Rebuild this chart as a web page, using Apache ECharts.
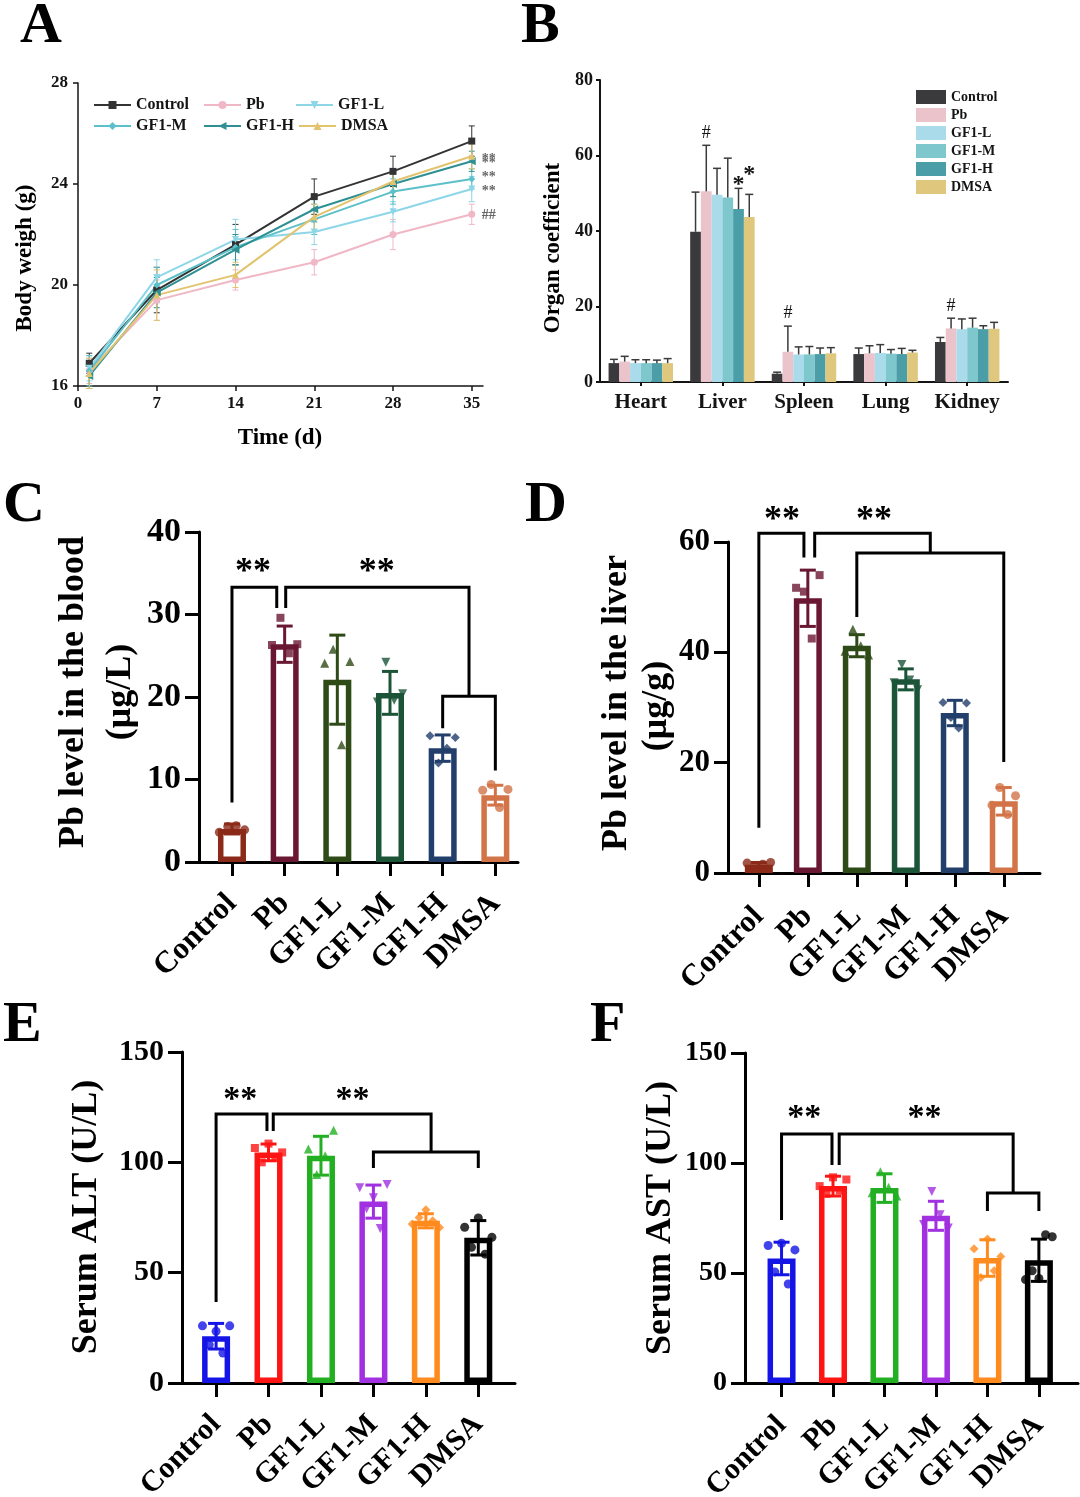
<!DOCTYPE html>
<html><head><meta charset="utf-8">
<script src="https://cdn.jsdelivr.net/npm/echarts@6/dist/echarts.min.js"></script>
<style>html,body{margin:0;padding:0;background:#fff}#c{width:1080px;height:1497px}</style>
</head><body><div id="c"></div>
<script>
// ================= DATA =================
const groups = ['Control', 'Pb', 'GF1-L', 'GF1-M', 'GF1-H', 'DMSA'];

// ---- A: body weight (g) ----
const daysA = [1, 7, 14, 21, 28, 35];
const wControl = [16.9, 19.8, 21.6, 23.5, 24.5, 25.7];
const wPb      = [16.6, 19.4, 20.2, 20.9, 22.0, 22.8];
const wGF1L    = [16.7, 20.3, 21.8, 22.1, 22.9, 23.8];
const wGF1M    = [16.6, 20.0, 21.5, 22.6, 23.7, 24.2];
const wGF1H    = [16.4, 19.7, 21.4, 23.0, 24.0, 24.9];
const wDMSA    = [16.5, 19.6, 20.4, 22.7, 24.1, 25.1];
const wErrControl = [0.4, 0.9, 0.8, 0.7, 0.6, 0.6];
const wErrPb      = [0.5, 0.8, 0.4, 0.5, 0.6, 0.4];
const wErrGF1L    = [0.5, 0.7, 0.8, 0.5, 0.4, 0.5];
const wErrGF1M    = [0.6, 0.7, 0.7, 0.6, 0.5, 0.4];
const wErrGF1H    = [0.5, 0.6, 0.6, 0.5, 0.5, 0.4];
const wErrDMSA    = [0.6, 1.0, 0.5, 0.5, 0.4, 0.5];
const ticksA = [0, 7, 14, 21, 28, 35];
const sigA = [[35, 24.98, '**'], [35, 24.8, '**'], [35, 24.25, '**'], [35, 23.7, '**'], [35, 22.75, '##']];

// ---- B: organ coefficient ----
const organs = ['Heart', 'Liver', 'Spleen', 'Lung', 'Kidney'];
const orgControl = [5.0, 39.8, 2.2, 7.4, 10.6];
const orgPb      = [5.4, 50.5, 8.0, 7.6, 14.2];
const orgGF1L    = [5.0, 49.6, 7.3, 7.7, 14.0];
const orgGF1M    = [5.0, 48.9, 7.3, 7.5, 14.4];
const orgGF1H    = [5.0, 45.8, 7.4, 7.4, 14.0];
const orgDMSA    = [5.0, 43.7, 7.6, 7.8, 14.1];
const orgErrControl = [1.0, 10.5, 0.4, 1.6, 1.2];
const orgErrPb      = [1.4, 12.2, 6.8, 2.0, 2.7];
const orgErrGF1L    = [0.9, 7.0, 2.0, 2.2, 2.7];
const orgErrGF1M    = [0.9, 10.4, 2.1, 1.1, 2.5];
const orgErrGF1H    = [0.8, 5.5, 1.6, 1.5, 0.9];
const orgErrDMSA    = [1.2, 6.0, 1.5, 0.6, 1.7];
// [organ index, group index, value, mark]
const sigB = [[1, 1, 66.0, '#'], [2, 1, 18.3, '#'], [4, 1, 20.0, '#'], [1, 4, 52.2, '*'], [1, 5, 54.8, '*']];

// ---- C: Pb in blood (ug/L) ----
const meanC = [4.0, 26.4, 22.1, 20.5, 13.8, 8.1];
const errC  = [0.6, 2.2, 5.4, 2.6, 1.6, 1.2];
const ptsCControl = [3.6, 4.3, 4.4, 3.9];
const ptsCPb      = [26.3, 29.6, 25.3, 26.4];
const ptsCGF1L    = [24.1, 25.8, 14.2, 24.3];
const ptsCGF1M    = [19.4, 24.2, 19.6, 20.4];
const ptsCGF1H    = [15.3, 12.0, 13.8, 15.1];
const ptsCDMSA    = [8.7, 9.4, 6.6, 8.8];
const bracketsC = [
  [[0, 7.2], [0, 33.3], [0.85, 33.3], [0.85, 30.8]],
  [[1.02, 30.8], [1.02, 33.3], [4.5, 33.3], [4.5, 20.1]],
  [[4, 16.2], [4, 20.1], [5, 20.1], [5, 11.1]]
];
const sigC = [[0.4, 36, '**'], [2.75, 36, '**']];

// ---- D: Pb in liver (ug/g) ----
const meanD = [1.5, 49.8, 41.2, 35.1, 29.0, 13.0];
const errD  = [0.4, 5.1, 2.0, 1.9, 2.3, 2.5];
const ptsDControl = [1.8, 1.2, 1.6, 1.9];
const ptsDPb      = [51.7, 51.0, 42.5, 54.0];
const ptsDGF1L    = [40.2, 44.2, 41.2, 39.5];
const ptsDGF1M    = [34.5, 37.8, 35.0, 33.2];
const ptsDGF1H    = [30.9, 28.2, 26.3, 30.8];
const ptsDDMSA    = [12.3, 15.5, 10.6, 14.0];
const bracketsD = [
  [[0, 8.2], [0, 61.6], [0.92, 61.6], [0.92, 57.2]],
  [[1.14, 57.2], [1.14, 61.6], [3.5, 61.6], [3.5, 58.0]],
  [[2, 46.4], [2, 58.0], [5, 58.0], [5, 20.1]]
];
const sigD = [[0.47, 65.4, '**'], [2.35, 65.4, '**']];

// ---- E: serum ALT (U/L) ----
const meanE = [21.2, 104.5, 103.0, 82.2, 73.5, 65.8];
const errE  = [5.8, 3.8, 8.8, 7.5, 3.2, 7.8];
const ptsEControl = [25.9, 17.3, 23.4, 13.6, 25.9];
const ptsEPb      = [106.5, 100.0, 108.5, 102.0, 104.5];
const ptsEGF1L    = [106.0, 94.5, 103.0, 114.5];
const ptsEGF1M    = [88.5, 79.0, 84.0, 70.0, 90.0];
const ptsEGF1H    = [72.0, 75.0, 78.5, 73.5, 70.5];
const ptsEDMSA    = [70.6, 61.5, 74.8, 58.4, 66.0];
const bracketsE = [
  [[0, 36.7], [0, 121.9], [0.97, 121.9], [0.97, 114.2]],
  [[1.09, 114.2], [1.09, 121.9], [4.1, 121.9], [4.1, 104.7]],
  [[3, 97.4], [3, 104.7], [5, 104.7], [5, 97.4]]
];
const sigE = [[0.46, 131.8, '**'], [2.6, 131.8, '**']];

// ---- F: serum AST (U/L) ----
const meanF = [56.6, 89.5, 88.6, 76.0, 56.8, 55.8];
const errF  = [7.4, 4.5, 6.5, 6.6, 8.3, 9.6];
const ptsFControl = [62.5, 50.5, 63.5, 45.0, 60.5];
const ptsFPb      = [89.5, 86.0, 93.5, 87.5, 92.5];
const ptsFGF1L    = [86.5, 96.0, 89.0, 85.0];
const ptsFGF1M    = [72.0, 87.0, 76.5, 70.5];
const ptsFGF1H    = [61.0, 48.0, 65.5, 51.0, 57.5];
const ptsFDMSA    = [47.0, 51.0, 47.5, 67.4, 66.5];
const bracketsF = [
  [[0, 74.1], [0, 113.2], [0.98, 113.2], [0.98, 99.1]],
  [[1.12, 99.1], [1.12, 113.2], [4.5, 113.2], [4.5, 86.4]],
  [[4, 78.2], [4, 86.4], [5, 86.4], [5, 78.2]]
];
const sigF = [[0.44, 124, '**'], [2.78, 124, '**']];

// ================= STYLE =================
const FONT = '"Liberation Serif", "Times New Roman", serif';
const INK = '#141414';
const colA = ['#333333', '#f0b7c6', '#8dd6e8', '#5cc0c8', '#2f9094', '#e2c36e'];
const symA = ['rect', 'circle', 'path://M0,0L10,0L5,10Z', 'diamond', 'path://M0,5L10,0L10,10Z', 'triangle'];
const colB = ['#3a3a3c', '#ebc3cb', '#a9dbea', '#7ec7cd', '#4b9ea7', '#e0c77e'];
const colCD = ['#8b2a18', '#6a1733', '#2e4a16', '#1c5438', '#223f6b', '#d27448'];
const colEF = ['#1414e6', '#ff1414', '#22b022', '#a030e0', '#ff8a1e', '#000000'];
const symCF = ['circle', 'rect', 'triangle', 'path://M0,0L10,0L5,10Z', 'diamond', 'circle'];

const grids = [
  { left: 78, top: 83, width: 405, height: 303 },
  { left: 600, top: 80, width: 408, height: 302 },
  { left: 199, top: 532, width: 319, height: 330 },
  { left: 728, top: 542, width: 312, height: 331 },
  { left: 182, top: 1052, width: 333, height: 331 },
  { left: 745, top: 1053, width: 333, height: 330 }
].map(g => Object.assign(g, { containLabel: false, outerBoundsMode: 'none' }));

const xAxes = [], yAxes = [], series = [], graphics = [], legends = [];

function lbl(size, extra) {
  return Object.assign({ fontFamily: FONT, fontWeight: 'bold', fontSize: size, color: INK }, extra || {});
}

// ---------- Panel A ----------
xAxes.push({
  gridIndex: 0, type: 'value', min: 0, max: 36,
  axisLine: { onZero: false, lineStyle: { color: INK, width: 1.5 } },
  axisTick: { customValues: ticksA, length: 5, lineStyle: { color: INK, width: 1.5 } },
  axisLabel: Object.assign(lbl(17), { customValues: ticksA, margin: 9 }),
  splitLine: { show: false }
});
yAxes.push({
  gridIndex: 0, type: 'value', min: 16, max: 28, interval: 4,
  axisLine: { show: true, onZero: false, lineStyle: { color: INK, width: 1.5 } },
  axisTick: { show: true, length: 5, lineStyle: { color: INK, width: 1.5 } },
  axisLabel: Object.assign(lbl(17), { margin: 10 }),
  splitLine: { show: false }
});
const wMeans = [wControl, wPb, wGF1L, wGF1M, wGF1H, wDMSA];
const wErrs = [wErrControl, wErrPb, wErrGF1L, wErrGF1M, wErrGF1H, wErrDMSA];

function errItem(capHalf, lw, color, upperOnly, xShift) {
  return function (params, api) {
    const x = api.value(0), m = api.value(1), e = api.value(2);
    const t = api.coord([x, m + e]), b = api.coord([x, upperOnly ? m : m - e]);
    const dx = xShift ? xShift(params, api) : 0;
    const c = typeof color === 'function' ? color(params.dataIndex, api) : color;
    const st = { stroke: c, lineWidth: lw };
    const ch = [
      { type: 'line', shape: { x1: t[0] + dx, y1: t[1], x2: b[0] + dx, y2: b[1] }, style: st },
      { type: 'line', shape: { x1: t[0] + dx - capHalf, y1: t[1], x2: t[0] + dx + capHalf, y2: t[1] }, style: st }
    ];
    if (!upperOnly) ch.push({ type: 'line', shape: { x1: b[0] + dx - capHalf, y1: b[1], x2: b[0] + dx + capHalf, y2: b[1] }, style: st });
    return { type: 'group', children: ch };
  };
}

groups.forEach((g, gi) => {
  series.push({
    type: 'custom', xAxisIndex: 0, yAxisIndex: 0, silent: true, z: 1,
    data: daysA.map((d, i) => [d, wMeans[gi][i], wErrs[gi][i]]),
    renderItem: errItem(3, 1, colA[gi], false)
  });
});
groups.forEach((g, gi) => {
  series.push({
    type: 'line', name: g, xAxisIndex: 0, yAxisIndex: 0, z: 3,
    data: daysA.map((d, i) => [d, wMeans[gi][i]]),
    symbol: symA[gi], symbolSize: gi === 4 ? 8 : 7, showSymbol: true,
    lineStyle: { color: colA[gi], width: 2 }, itemStyle: { color: colA[gi] }
  });
});
function textSeries(xi, yi, arr, size, color, dx, dy) {
  return {
    type: 'custom', xAxisIndex: xi, yAxisIndex: yi, silent: true, clip: false, z: 6,
    data: arr.map((s, i) => [s[0], s[1], i]),
    renderItem: function (params, api) {
      const p = api.coord([api.value(0), api.value(1)]);
      return { type: 'text', x: p[0] + (dx || 0), y: p[1] + (dy || 0),
        style: { text: arr[params.dataIndex][2], fill: color, font: 'bold ' + size + 'px ' + FONT, align: 'center', verticalAlign: 'middle' } };
    }
  };
}
series.push(textSeries(0, 0, sigA, 14, '#666', 17, 0));
const legPosA = [[93, 97], [203, 97], [295, 97], [93, 118], [203, 118], [298, 118]];
groups.forEach((g, gi) => {
  legends.push({
    data: [g], left: legPosA[gi][0], top: legPosA[gi][1], padding: 0,
    itemWidth: 37, itemHeight: 10, itemGap: 0, selectedMode: false,
    textStyle: lbl(16, { padding: [0, 0, 0, 0] })
  });
});

// ---------- Panel B ----------
xAxes.push({
  gridIndex: 1, type: 'category', data: organs,
  axisLine: { onZero: false, lineStyle: { color: INK, width: 2 } },
  axisTick: { show: true, alignWithLabel: true, length: 4, lineStyle: { color: INK, width: 2 } },
  axisLabel: Object.assign(lbl(21), { margin: 10, interval: 0 })
});
yAxes.push({
  gridIndex: 1, type: 'value', min: 0, max: 80, interval: 20,
  axisLine: { show: true, onZero: false, lineStyle: { color: INK, width: 2 } },
  axisTick: { show: true, length: 4, lineStyle: { color: INK, width: 2 } },
  axisLabel: Object.assign(lbl(18), { margin: 7 }),
  splitLine: { show: false }
});
const orgMeans = [orgControl, orgPb, orgGF1L, orgGF1M, orgGF1H, orgDMSA];
const orgErrs = [orgErrControl, orgErrPb, orgErrGF1L, orgErrGF1M, orgErrGF1H, orgErrDMSA];
const GAP_B = 0.21;
groups.forEach((g, gi) => {
  series.push({
    type: 'bar', name: 'B:' + g, xAxisIndex: 1, yAxisIndex: 1, z: 2,
    data: orgMeans[gi], barGap: 0, barCategoryGap: (GAP_B * 100) + '%',
    itemStyle: { color: colB[gi] }
  });
});
function bShift(params, api) {
  const band = api.size([1, 0])[0];
  const bw = band * (1 - GAP_B) / 6;
  return (api.value(3) - 2.5) * bw;
}
const errBData = [];
groups.forEach((g, gi) => organs.forEach((o, oi) => errBData.push([oi, orgMeans[gi][oi], orgErrs[gi][oi], gi])));
series.push({
  type: 'custom', xAxisIndex: 1, yAxisIndex: 1, silent: true, z: 4,
  data: errBData, renderItem: errItem(4, 1.5, '#3a3a3a', true, bShift)
});
series.push({
  type: 'custom', xAxisIndex: 1, yAxisIndex: 1, silent: true, clip: false, z: 6,
  data: sigB.map((s, i) => [s[0], s[2], i, s[1]]),
  renderItem: function (params, api) {
    const p = api.coord([api.value(0), api.value(1)]);
    const dx = bShift(params, api);
    const s = sigB[params.dataIndex];
    return { type: 'text', x: p[0] + dx, y: p[1],
      style: { text: s[3], fill: INK, font: (s[3] === '*' ? 'bold 24px ' : '18px ') + FONT, align: 'center', verticalAlign: 'middle' } };
  }
});
legends.push({
  data: groups.map(g => ({ name: 'B:' + g, icon: 'rect' })), orient: 'vertical',
  left: 916, top: 90, padding: 0, itemWidth: 30, itemHeight: 14, itemGap: 4, selectedMode: false,
  formatter: n => n.slice(2), textStyle: lbl(14)
});

// ---------- Panels C-F ----------
const cats = [0, 1, 2, 3, 4, 5];
function barPanel(k, xr, yMax, yInt, means, errs, ptsList, brackets, sigs, cols, fs) {
  xAxes.push({
    gridIndex: k, type: 'value', min: xr[0], max: xr[1],
    axisLine: { onZero: false, lineStyle: { color: '#000', width: 3 } },
    axisTick: { customValues: cats, length: 14, lineStyle: { color: '#000', width: 3 } },
    axisLabel: Object.assign(lbl(fs.x, { color: '#000' }), { customValues: cats, rotate: 45, margin: fs.xm, formatter: v => groups[Math.round(v)] }),
    splitLine: { show: false }
  });
  yAxes.push({
    gridIndex: k, type: 'value', min: 0, max: yMax, interval: yInt,
    axisLine: { show: true, onZero: false, lineStyle: { color: '#000', width: 3 } },
    axisTick: { show: true, length: 14, lineStyle: { color: '#000', width: 3 } },
    axisLabel: Object.assign(lbl(fs.y, { color: '#000' }), { margin: 18 }),
    splitLine: { show: false }
  });
  series.push({
    type: 'bar', xAxisIndex: k, yAxisIndex: k, z: 2, barWidth: 28, silent: true,
    data: means.map((m, i) => ({ value: [i, m], itemStyle: { color: '#fff', borderColor: cols[i], borderWidth: 5.5 } }))
  });
  ptsList.forEach((pts, gi) => {
    const n = pts.length;
    const offs = n === 4 ? [-0.24, -0.08, 0.08, 0.24] : [-0.26, -0.13, 0, 0.13, 0.26];
    series.push({
      type: 'scatter', xAxisIndex: k, yAxisIndex: k, z: 3, silent: true,
      symbol: symCF[gi], symbolSize: symCF[gi] === 'rect' ? 8 : 9,
      itemStyle: { color: cols[gi] },
      data: pts.map((v, j) => [gi + offs[j], v])
    });
  });
  series.push({
    type: 'custom', xAxisIndex: k, yAxisIndex: k, silent: true, z: 4,
    data: means.map((m, i) => [i, m, errs[i]]),
    renderItem: errItem(8, 3, (i) => cols[i], false)
  });
  series.push({
    type: 'custom', xAxisIndex: k, yAxisIndex: k, silent: true, clip: false, z: 5,
    data: brackets.map((b, i) => [b[0][0], b[0][1], i]),
    renderItem: function (params, api) {
      const pts = brackets[params.dataIndex].map(p => api.coord(p));
      return { type: 'polyline', shape: { points: pts }, style: { stroke: '#000', lineWidth: 3, fill: null } };
    }
  });
  series.push(textSeries(k, k, sigs, fs.sig, '#000', 0, 8));
}
barPanel(2, [-0.626, 5.43], 40, 10, meanC, errC,
  [ptsCControl, ptsCPb, ptsCGF1L, ptsCGF1M, ptsCGF1H, ptsCDMSA], bracketsC, sigC, colCD, { x: 31, xm: 37, y: 34, sig: 36 });
barPanel(3, [-0.63, 5.74], 60, 20, meanD, errD,
  [ptsDControl, ptsDPb, ptsDGF1L, ptsDGF1M, ptsDGF1H, ptsDDMSA], bracketsD, sigD, colCD, { x: 31, xm: 39, y: 31, sig: 36 });
barPanel(4, [-0.65, 5.7], 150, 50, meanE, errE,
  [ptsEControl, ptsEPb, ptsEGF1L, ptsEGF1M, ptsEGF1H, ptsEDMSA], bracketsE, sigE, colEF, { x: 30, xm: 37, y: 30, sig: 34 });
barPanel(5, [-0.71, 5.76], 150, 50, meanF, errF,
  [ptsFControl, ptsFPb, ptsFGF1L, ptsFGF1M, ptsFGF1H, ptsFDMSA], bracketsF, sigF, colEF, { x: 30, xm: 38, y: 28, sig: 34 });

// ---------- titles & panel letters ----------
function gtext(text, x, y, size, rot, align) {
  graphics.push({
    type: 'text', x: x, y: y, rotation: rot ? Math.PI / 2 : 0, silent: true,
    style: { text: text, fill: '#000', font: 'bold ' + size + 'px ' + FONT, align: align || 'center', verticalAlign: 'middle' }
  });
}
gtext('A', 20, 27, 58, false, 'left');
gtext('B', 521, 27, 58, false, 'left');
gtext('C', 3, 506, 58, false, 'left');
gtext('D', 525, 506, 58, false, 'left');
gtext('E', 3, 1026, 58, false, 'left');
gtext('F', 590, 1026, 58, false, 'left');
gtext('Body weigh (g)', 25, 258, 23, true);
gtext('Time (d)', 280, 438, 23, false);
gtext('Organ coefficient', 553, 248, 23, true);
gtext('Pb level in the blood', 74, 692, 36, true);
gtext('(μg/L)', 121, 692, 36, true);
gtext('Pb level in the liver', 617, 703, 36, true);
gtext('(μg/g)', 657, 706, 36, true);
gtext('Serum ALT (U/L)', 87, 1217, 36, true);
gtext('Serum AST (U/L)', 661, 1218, 36, true);

const chart = echarts.init(document.getElementById('c'), null, { renderer: 'canvas' });
chart.setOption({
  animation: false,
  backgroundColor: '#fff',
  textStyle: { fontFamily: FONT },
  grid: grids,
  xAxis: xAxes,
  yAxis: yAxes,
  legend: legends,
  series: series,
  graphic: graphics
});
</script></body></html>
